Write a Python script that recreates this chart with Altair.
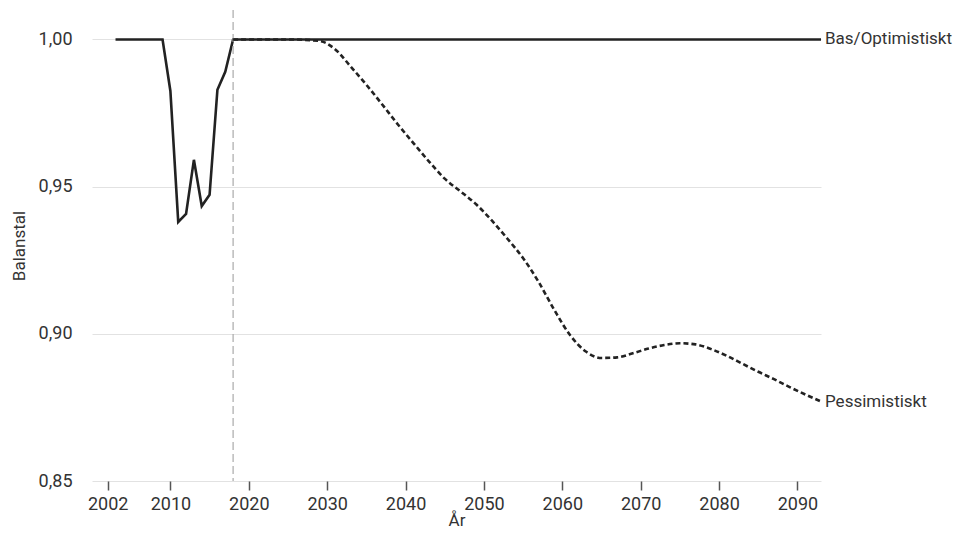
import altair as alt
import pandas as pd

# Historic + base scenario (Bas/Optimistiskt)
base_years = [2003, 2004, 2005, 2006, 2007, 2008, 2009, 2010, 2011, 2012, 2013,
              2014, 2015, 2016, 2017, 2018, 2030, 2040, 2050, 2060, 2070, 2080,
              2090, 2093]
base_values = [1.000, 1.000, 1.000, 1.000, 1.000, 1.000, 1.000, 0.9825, 0.9380,
               0.9407, 0.9591, 0.9434, 0.9472, 0.9829, 0.9890, 1.000, 1.000,
               1.000, 1.000, 1.000, 1.000, 1.000, 1.000, 1.000]

# Pessimistic scenario
pess_years = [2018, 2025, 2029, 2031, 2033, 2035, 2037, 2039, 2041, 2043, 2045,
              2047, 2049, 2051, 2053, 2055, 2057, 2059, 2061, 2063, 2065, 2067,
              2069, 2071, 2073, 2075, 2077, 2079, 2081, 2083, 2085, 2087, 2089,
              2091, 2093]
pess_values = [1.000, 1.000, 0.9995, 0.9967, 0.9908, 0.9846, 0.9780, 0.9712,
               0.9648, 0.9585, 0.9527, 0.9484, 0.9440, 0.9385, 0.9323, 0.9257,
               0.9175, 0.9080, 0.8995, 0.8940, 0.8918, 0.8920, 0.8934, 0.8950,
               0.8962, 0.8968, 0.8964, 0.8948, 0.8925, 0.8898, 0.8871, 0.8846,
               0.8819, 0.8794, 0.8770]

series_names = ["Bas/Optimistiskt", "Pessimistiskt"]
x_ticks = [2002, 2010, 2020, 2030, 2040, 2050, 2060, 2070, 2080, 2090]
y_ticks = [0.85, 0.90, 0.95, 1.00]
forecast_start = [2018]

base_df = pd.DataFrame({"year": base_years, "value": base_values})
pess_df = pd.DataFrame({"year": pess_years, "value": pess_values})
label_df = pd.DataFrame({
    "year": [base_years[-1], pess_years[-1]],
    "value": [base_values[-1], pess_values[-1]],
    "name": series_names,
})
rule_df = pd.DataFrame({"year": forecast_start})

FONT = "Roboto"
TXT = "#333333"
LINE = "#222222"

x_enc = alt.X(
    "year:Q",
    scale=alt.Scale(domain=[2000, 2093], nice=False, zero=False),
    axis=alt.Axis(
        values=x_ticks, format="d", grid=False, domain=False,
        ticks=True, tickColor="#555555", tickSize=9, tickWidth=1.5,
        labelFontSize=18, labelColor=TXT, labelPadding=5, labelFont=FONT,
        title="År", titleFontSize=17, titleFont=FONT, titleColor=TXT,
        titleFontWeight="normal", titleBaseline="alphabetic", titleY=44,
    ),
)
y_enc = alt.Y(
    "value:Q",
    scale=alt.Scale(domain=[0.85, 1.01], nice=False, zero=False),
    axis=alt.Axis(
        values=y_ticks, grid=True, gridColor="#e2e2e2", gridWidth=1,
        domain=False, ticks=False,
        labelExpr="replace(format(datum.value, '.2f'), '.', ',')",
        labelFontSize=18, labelColor=TXT, labelPadding=20, labelFont=FONT,
        title="Balanstal", titleFontSize=17, titleFont=FONT, titleColor=TXT,
        titleFontWeight="normal", titleAngle=270, titleAlign="center",
        titleBaseline="middle", titleX=-73, titleY=235.5,
    ),
)

rule = alt.Chart(rule_df).mark_rule(
    color="#aaaaaa", strokeDash=[8, 4], strokeWidth=1.2
).encode(x=alt.X("year:Q"))

base_line = alt.Chart(base_df).mark_line(
    color=LINE, strokeWidth=2.6
).encode(x=x_enc, y=y_enc)

pess_line = alt.Chart(pess_df).mark_line(
    color=LINE, strokeWidth=2.6, strokeDash=[5, 3], interpolate="monotone"
).encode(x="year:Q", y="value:Q")

labels = alt.Chart(label_df).mark_text(
    align="left", baseline="middle", dx=4, fontSize=17, font=FONT, color=TXT
).encode(x="year:Q", y="value:Q", text="name:N")

chart = alt.layer(base_line, rule, pess_line, labels).properties(
    width=729,
    height=471,
    autosize=alt.AutoSizeParams(type="none"),
    padding={"left": 84, "top": 2, "right": 133, "bottom": 49},
).configure(font=FONT).configure_view(strokeWidth=0, stroke="transparent")

chart.save("out.html", embed_options={"renderer": "svg", "actions": False})
